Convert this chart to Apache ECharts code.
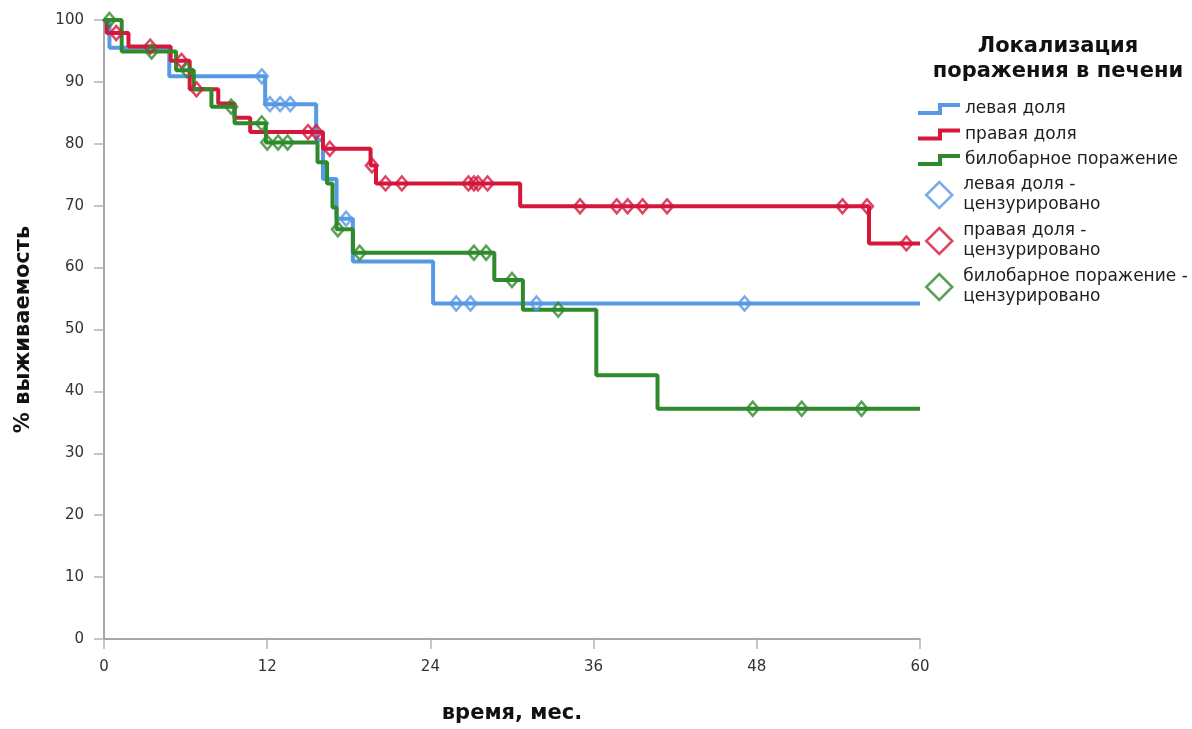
<!DOCTYPE html>
<html><head><meta charset="utf-8">
<script src="https://cdn.jsdelivr.net/npm/echarts@6/dist/echarts.min.js"></script>
<style>html,body{margin:0;padding:0;background:#fff}#c{width:1192px;height:729px}</style>
</head><body><div id="c"></div>
<script>
// ---- data ----
const xTicks = [0, 12, 24, 36, 48, 60];
const yTicks = [0, 10, 20, 30, 40, 50, 60, 70, 80, 90, 100];
const groupNames = ['левая доля', 'правая доля', 'билобарное поражение'];
const censorSuffix = ' - цензурировано';
const legendTitle = 'Локализация\nпоражения в печени';
const xName = 'время, мес.';
const yName = '% выживаемость';

const leftCurve = [[0,100],[0.4,95.5],[4.8,90.9],[11.85,86.4],[15.6,80.6],[16.1,74.3],[17.1,67.9],[18.3,61.0],[24.2,54.2],[60,54.2]];
const leftCensored = [[11.6,90.9],[12.2,86.4],[12.95,86.4],[13.7,86.4],[17.8,67.9],[25.9,54.2],[26.95,54.2],[31.8,54.2],[47.1,54.2]];

const rightCurve = [[0,100],[0.2,97.9],[1.8,95.7],[4.9,93.4],[6.3,88.8],[8.4,86.5],[9.6,84.2],[10.75,81.9],[16.1,79.2],[19.6,76.5],[20.0,73.6],[30.6,69.9],[56.25,63.9],[60,63.9]];
const rightCensored = [[0.9,97.9],[3.4,95.7],[5.7,93.4],[6.8,88.8],[15.0,81.9],[15.6,81.9],[16.6,79.2],[19.7,76.5],[20.7,73.6],[21.9,73.6],[26.8,73.6],[27.2,73.6],[27.5,73.6],[28.2,73.6],[35.0,69.9],[37.7,69.9],[38.5,69.9],[39.6,69.9],[41.4,69.9],[54.3,69.9],[56.1,69.9],[59.0,63.9]];

const bilobarCurve = [[0,100],[1.3,94.9],[5.3,91.9],[6.6,88.8],[7.9,86.0],[9.6,83.3],[11.9,80.2],[15.7,77.0],[16.4,73.6],[16.8,69.7],[17.1,66.2],[18.3,62.4],[28.7,58.0],[30.8,53.2],[36.2,42.6],[40.7,37.2],[60,37.2]];
const bilobarCensored = [[0.4,100],[3.5,94.9],[6.1,91.9],[9.35,86.0],[11.6,83.3],[12.0,80.2],[12.8,80.2],[13.5,80.2],[17.2,66.2],[18.8,62.4],[27.2,62.4],[28.1,62.4],[30.0,58.0],[33.4,53.2],[47.7,37.2],[51.3,37.2],[55.7,37.2]];

const colors = ['#5799e4', '#d5173c', '#2f8a2c'];
// ---- chart ----
const curves = [leftCurve, rightCurve, bilobarCurve];
const censored = [leftCensored, rightCensored, bilobarCensored];
const FONT = 'DejaVu Sans';
const stepIcon = 'path://M0,8 L20,8 L20,0 L42,0 L42,4 L24,4 L24,12 L0,12 Z';

const series = [];
groupNames.forEach((n, i) => {
  series.push({
    name: n, type: 'line', step: 'end', data: curves[i], symbol: 'none',
    lineStyle: { color: colors[i], width: 4 }, itemStyle: { color: colors[i] },
    z: 2 + i, silent: true
  });
});
groupNames.forEach((n, i) => {
  series.push({
    name: n + censorSuffix, type: 'scatter', data: censored[i], symbol: 'diamond',
    symbolSize: [12, 14],
    itemStyle: { color: 'rgba(255,255,255,0)', borderColor: colors[i], borderWidth: 2.5 },
    z: 6, silent: true
  });
});

const chart = echarts.init(document.getElementById('c'), null, { renderer: 'canvas' });
chart.setOption({
  animation: false,
  backgroundColor: '#fff',
  title: {
    text: legendTitle, left: 1058, top: 34, padding: 0, textAlign: 'center',
    textStyle: { fontFamily: FONT, fontWeight: 'bold', fontSize: 21, lineHeight: 25, color: '#111' }
  },
  legend: [
    {
      orient: 'vertical', left: 918, top: 99, padding: 0, itemGap: 5.5,
      itemWidth: 42, itemHeight: 12, selectedMode: false,
      data: groupNames.map((n, i) => ({ name: n, icon: stepIcon, itemStyle: { color: colors[i], borderWidth: 0 } })),
      textStyle: { fontFamily: FONT, fontSize: 17, color: '#1e1e1e', lineHeight: 20 }
    },
    {
      orient: 'vertical', left: 925, top: 175, padding: 0, itemGap: 6,
      itemWidth: 26, itemHeight: 26, selectedMode: false,
      data: groupNames.map((n, i) => ({ name: n + censorSuffix, icon: 'diamond',
        itemStyle: { color: 'rgba(255,255,255,0)', borderColor: colors[i], borderWidth: 2.5 } })),
      formatter: name => name.replace(' - ', ' -\n'),
      textStyle: { fontFamily: FONT, fontSize: 17, color: '#1e1e1e', lineHeight: 20, padding: [0, 0, 0, 6] }
    }
  ],
  grid: { left: 104, right: 272, top: 20, bottom: 87, containLabel: false },
  xAxis: {
    type: 'value', min: xTicks[0], max: xTicks[xTicks.length - 1], interval: 12,
    name: xName, nameLocation: 'middle', nameGap: 64,
    nameTextStyle: { fontFamily: FONT, fontWeight: 'bold', fontSize: 21, color: '#111' },
    axisLine: { show: true, lineStyle: { color: '#8a8a8a', width: 1.5 } },
    axisTick: { show: true, length: 10, lineStyle: { color: '#b5b5b5', width: 1.5 } },
    axisLabel: { margin: 21, fontFamily: FONT, fontSize: 15, color: '#333' },
    splitLine: { show: false }
  },
  yAxis: {
    type: 'value', min: yTicks[0], max: yTicks[yTicks.length - 1], interval: 10,
    name: yName, nameLocation: 'middle', nameGap: 70, nameRotate: 90,
    nameTextStyle: { fontFamily: FONT, fontWeight: 'bold', fontSize: 21, color: '#111' },
    axisLine: { show: true, lineStyle: { color: '#8a8a8a', width: 1.5 } },
    axisTick: { show: true, length: 10, lineStyle: { color: '#b5b5b5', width: 1.5 } },
    axisLabel: { margin: 20, fontFamily: FONT, fontSize: 15, color: '#333' },
    splitLine: { show: false }
  },
  series: series
});
</script>
</body></html>
